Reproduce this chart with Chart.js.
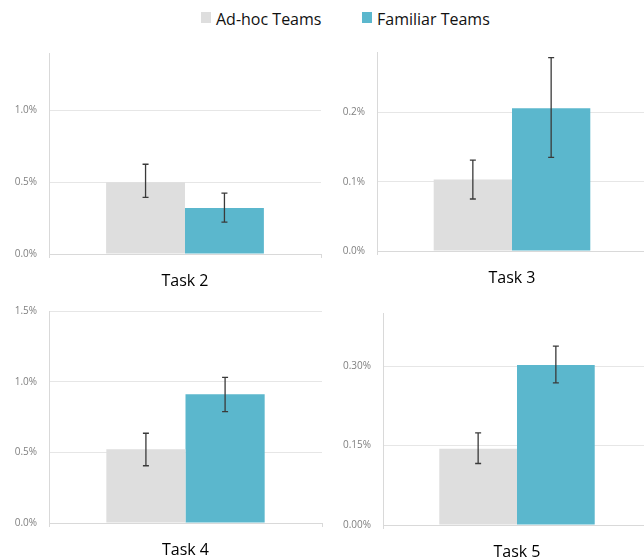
<!DOCTYPE html>
<html>
<head>
<meta charset="utf-8">
<script src="https://cdn.jsdelivr.net/npm/chart.js@4.4.1/dist/chart.umd.min.js"></script>
<style>
  html, body { margin:0; padding:0; width:644px; height:557px; overflow:hidden; background:#fff; }
  body { position:relative; font-family:"Open Sans", sans-serif; }
  canvas { position:absolute; }
  .lg { position:absolute; top:7px; font-size:16px; color:#111; white-space:nowrap; line-height:24px; }
  .sw { position:absolute; width:10px; height:11px; top:12px; }
</style>
</head>
<body>
<div class="sw" style="left:201px;background:#dedede"></div>
<div class="lg" style="left:216px">Ad-hoc Teams</div>
<div class="sw" style="left:362px;background:#5bb7cd"></div>
<div class="lg" style="left:377px">Familiar Teams</div>

<canvas id="c0"></canvas>
<canvas id="c1"></canvas>
<canvas id="c2"></canvas>
<canvas id="c3"></canvas>

<script>
// ---- data (values in percent) ----
const categories   = ['Task 2', 'Task 3', 'Task 4', 'Task 5'];
const seriesNames  = ['Ad-hoc Teams', 'Familiar Teams'];
const adhoc        = [0.50, 0.103, 0.521, 0.144];
const adhocLow     = [0.395, 0.075, 0.405, 0.116];
const adhocHigh    = [0.625, 0.131, 0.635, 0.174];
const familiar     = [0.32, 0.206, 0.911, 0.302];
const familiarLow  = [0.222, 0.135, 0.788, 0.268];
const familiarHigh = [0.424, 0.279, 1.031, 0.3375];
const yMax         = [1.4, 0.287, 1.5, 0.40];
const tickValues   = [[0, 0.5, 1.0], [0, 0.1, 0.2], [0, 0.5, 1.0, 1.5], [0, 0.15, 0.30]];
const tickLabels   = [['0.0%', '0.5%', '1.0%'], ['0.0%', '0.1%', '0.2%'], ['0.0%', '0.5%', '1.0%', '1.5%'], ['0.00%', '0.15%', '0.30%']];

// ---- placement of each panel's canvas ----
const panels = [
  { left: 0,   top: 40,  width: 330, height: 254, padTop: 13 },
  { left: 328, top: 40,  width: 328, height: 251, padTop: 12 },
  { left: 0,   top: 300, width: 331, height: 263, padTop: 11 },
  { left: 334, top: 300, width: 326, height: 265, padTop: 13 }
];

const errorBars = {
  id: 'errorBars',
  afterDatasetsDraw(chart) {
    const ctx = chart.ctx;
    const ys = chart.scales.y;
    ctx.save();
    ctx.strokeStyle = '#3a3a3a';
    ctx.lineWidth = 1.3;
    chart.data.datasets.forEach((ds, di) => {
      const meta = chart.getDatasetMeta(di);
      meta.data.forEach((el, i) => {
        const x = el.x;
        const y1 = ys.getPixelForValue(ds.errLow[i]);
        const y2 = ys.getPixelForValue(ds.errHigh[i]);
        ctx.beginPath();
        ctx.moveTo(x, y1); ctx.lineTo(x, y2);
        ctx.moveTo(x - 3, y1); ctx.lineTo(x + 3, y1);
        ctx.moveTo(x - 3, y2); ctx.lineTo(x + 3, y2);
        ctx.stroke();
      });
    });
    ctx.restore();
  }
};

panels.forEach((p, k) => {
  const cv = document.getElementById('c' + k);
  cv.width = p.width; cv.height = p.height;
  cv.style.left = p.left + 'px'; cv.style.top = p.top + 'px';
  cv.style.width = p.width + 'px'; cv.style.height = p.height + 'px';
  new Chart(cv, {
    type: 'bar',
    data: {
      labels: [categories[k]],
      datasets: [
        { label: seriesNames[0], data: [adhoc[k]], errLow: [adhocLow[k]], errHigh: [adhocHigh[k]],
          backgroundColor: '#dedede', borderWidth: 0 },
        { label: seriesNames[1], data: [familiar[k]], errLow: [familiarLow[k]], errHigh: [familiarHigh[k]],
          backgroundColor: '#5bb7cd', borderWidth: 0 }
      ]
    },
    options: {
      responsive: false,
      animation: false,
      devicePixelRatio: 1,
      categoryPercentage: 0.58,
      barPercentage: 1.0,
      layout: { padding: { top: p.padTop, right: 9, left: 0, bottom: 0 } },
      plugins: { legend: { display: false }, tooltip: { enabled: false } },
      scales: {
        x: {
          afterFit(s) { s.height = 40; s.paddingLeft = 0; s.paddingRight = 0; },
          grid: { display: true, drawOnChartArea: false, drawTicks: true, tickLength: 4, color: '#d9d9d9' },
          border: { display: true, color: '#d9d9d9' },
          ticks: { padding: 14, color: '#000', font: { family: 'Open Sans', size: 16 } }
        },
        y: {
          min: 0, max: yMax[k],
          afterFit(s) { s.width = 49; s.paddingTop = 0; s.paddingBottom = 0; },
          afterBuildTicks(s) { s.ticks = tickValues[k].map(v => ({ value: v })); },
          grid: { color: '#e6e6e6', drawTicks: false },
          border: { display: true, color: '#d9d9d9' },
          ticks: {
            padding: 12, color: '#808080', font: { family: 'Open Sans', size: 10 },
            callback: (v, i) => tickLabels[k][i]
          }
        }
      }
    },
    plugins: [errorBars]
  });
});
</script>
</body>
</html>
